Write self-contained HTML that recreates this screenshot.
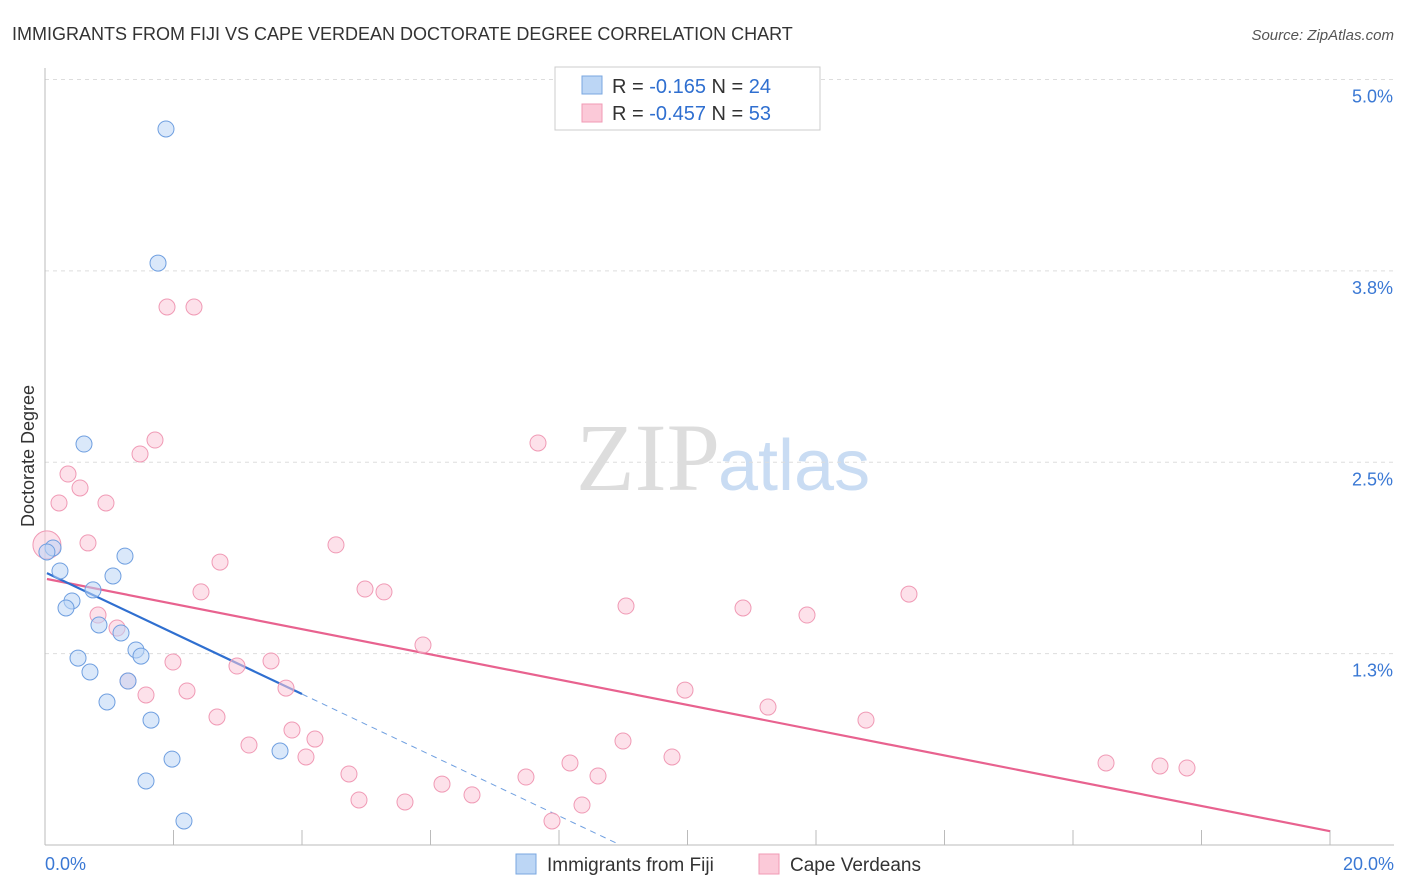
<!DOCTYPE html>
<html><head><meta charset="utf-8"><style>
body{margin:0;background:#fff;font-family:"Liberation Sans",sans-serif}
svg{display:block}
</style></head><body>
<svg id="chart" width="1406" height="892" xmlns="http://www.w3.org/2000/svg">
<text x="12" y="40" font-size="18" fill="#333">IMMIGRANTS FROM FIJI VS CAPE VERDEAN DOCTORATE DEGREE CORRELATION CHART</text>
<text x="1394" y="40" font-size="15" fill="#555" font-style="italic" text-anchor="end">Source: ZipAtlas.com</text>
<text x="720" y="490" font-size="96" fill="#ddd" text-anchor="end" font-family="Liberation Serif">ZIP</text>
<text x="718" y="490" font-size="72" fill="#c9dcf3">atlas</text>
<text transform="translate(34,456) rotate(-90)" font-size="18" fill="#333" text-anchor="middle">Doctorate Degree</text>
<g id="grid"></g><g id="ticks"></g><g id="lines"></g><g id="pts"></g>
<g>
<rect x="555" y="67" width="265" height="63" fill="#fff" stroke="#ccc"/>
<rect x="582" y="76" width="20" height="18" fill="#bcd6f5" stroke="#7aa7e0"/>
<rect x="582" y="104" width="20" height="18" fill="#fbc9d8" stroke="#f09ab5"/>
<text x="612" y="93" font-size="20" fill="#333">R = <tspan fill="#2f6fd0">-0.165</tspan>   N = <tspan fill="#2f6fd0">24</tspan></text>
<text x="612" y="120" font-size="20" fill="#333">R = <tspan fill="#2f6fd0">-0.457</tspan>   N = <tspan fill="#2f6fd0">53</tspan></text>
</g>
<g>
<rect x="516" y="854" width="20" height="20" fill="#bcd6f5" stroke="#7aa7e0"/>
<text x="547" y="871" font-size="19" fill="#333">Immigrants from Fiji</text>
<rect x="759" y="854" width="20" height="20" fill="#fbc9d8" stroke="#f09ab5"/>
<text x="790" y="871" font-size="19" fill="#333">Cape Verdeans</text>
</g>
<text x="45" y="870" font-size="18" fill="#3a78d4">0.0%</text>
<text x="1394" y="870" font-size="18" fill="#3a78d4" text-anchor="end">20.0%</text>
</svg>
<script>
const yTicks=[5.0,3.75,2.5,1.25];
const yTickLabels=["5.0%","3.8%","2.5%","1.3%"];
const xTicks=[0,2,4,6,8,10,12,14,16,18,20];
const fijiX=[1.883,1.759,0.607,1.245,0.125,0.233,1.058,0.747,0.420,0.327,0.840,1.183,1.416,1.494,0.514,0.700,1.292,0.965,1.650,1.977,1.572,2.163,3.658,0.03];
const fijiY=[4.677,3.801,2.619,1.887,1.940,1.790,1.757,1.666,1.594,1.548,1.437,1.385,1.274,1.234,1.221,1.130,1.071,0.934,0.816,0.561,0.418,0.157,0.614,1.914];
const cvX=[0.03,1.899,2.319,1.712,1.479,0.358,0.545,0.218,0.949,0.669,7.673,4.529,2.724,2.428,4.981,5.276,9.043,10.864,11.860,13.447,0.825,1.121,5.883,1.992,2.988,3.518,1.292,1.572,2.210,3.751,9.961,11.253,12.778,2.677,3.844,4.202,3.175,8.996,9.759,4.062,4.731,8.171,7.486,8.607,6.179,6.646,4.887,5.603,8.358,7.891,16.514,17.354,17.774];
const cvY=[1.96,3.514,3.514,2.645,2.554,2.423,2.332,2.234,2.234,1.973,2.626,1.960,1.848,1.653,1.672,1.653,1.561,1.548,1.502,1.639,1.502,1.417,1.306,1.195,1.169,1.202,1.071,0.980,1.006,1.025,1.012,0.901,0.816,0.836,0.751,0.692,0.653,0.679,0.575,0.575,0.464,0.536,0.444,0.451,0.398,0.327,0.294,0.281,0.261,0.157,0.536,0.516,0.503];
const fijiTrend=[1.782,-0.199];
const cvTrend=[1.740,-0.0825];
const X=v=>45+v*64.25, Y=v=>845-v*153.1;
const NS="http://www.w3.org/2000/svg";
function mk(p,t,a){const e=document.createElementNS(NS,t);for(const k in a)e.setAttribute(k,a[k]);document.getElementById(p).appendChild(e);return e;}
yTicks.forEach((v,i)=>{
 const l=mk('grid','line',{x1:45,x2:1394,y1:Y(v),y2:Y(v),stroke:'#ddd','stroke-dasharray':'4,4'});
 
 
 const t=mk('grid','text',{x:1393,y:Y(v)+23,'font-size':18,fill:'#3a78d4','text-anchor':'end'});
 t.textContent=yTickLabels[i];
 
 
});
const ax=mk('ticks','line',{x1:45,x2:45,y1:68,y2:845,stroke:'#bbb'});


const bx=mk('ticks','line',{x1:45,x2:1394,y1:845,y2:845,stroke:'#bbb'});


xTicks.forEach(v=>{
 const t=mk('ticks','line',{x1:X(v),x2:X(v),y1:830,y2:845,stroke:'#bbb'});
 
 
});
function pts(xs,ys,fill,stroke,name){xs.forEach((x,i)=>{
 const c=mk('pts','circle',{cx:X(x),cy:Y(ys[i]),r:(name==='cape-verdean-point'&&i===0)?14:8,fill:fill,stroke:stroke,'stroke-width':1,'fill-opacity':0.55});
 
 
});}
pts(cvX,cvY,'#fbc9d8','#f09ab5','cape-verdean-point');
pts(fijiX,fijiY,'#bcd6f5','#6f9fe0','fiji-point');
const tl=(a,b,x1,x2,col,dash,name)=>{const l=mk('lines','line',{x1:X(x1),x2:X(x2),y1:Y(a+b*x1),y2:Y(a+b*x2),stroke:col,'stroke-width':dash?1:2.2});if(dash)l.setAttribute('stroke-dasharray','6,5');
 
 };
tl(cvTrend[0],cvTrend[1],0.03,20,'#e8628f',false,'cape-verdean-trendline');
tl(fijiTrend[0],fijiTrend[1],0.03,4.0,'#2f6fd0',false,'fiji-trendline');
tl(fijiTrend[0],fijiTrend[1],4.0,8.95,'#6f9fe0',true,'fiji-trendline-extension');
</script>
</body></html>
